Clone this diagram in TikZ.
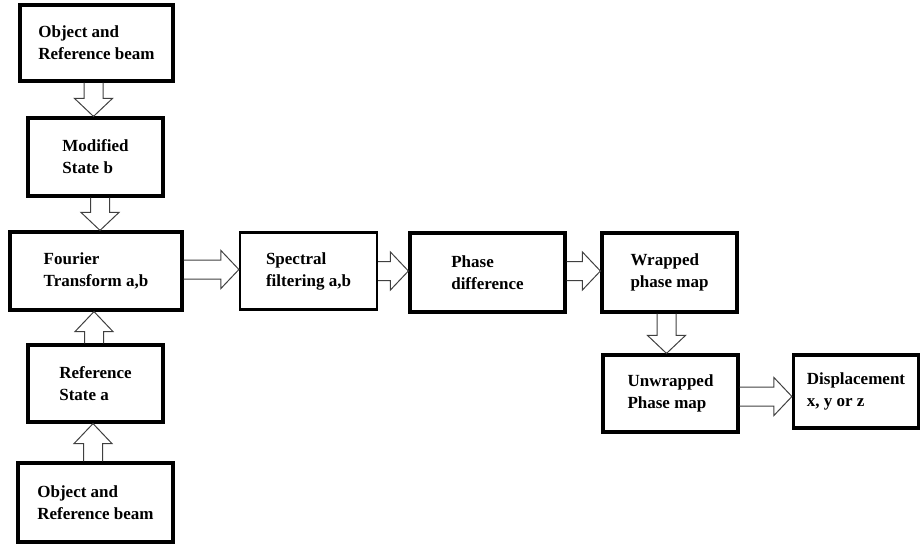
\documentclass[tikz,border=0pt]{standalone}
\usepackage{fontspec}
\setmainfont{Liberation Serif}
\usetikzlibrary{calc}

\tikzset{
    stage/.style={draw, line width=3.2pt, rectangle, align=left, inner sep=2pt,
        font=\fontsize{17}{22}\selectfont\bfseries},
    blockarrow/.style={draw=black!75, line width=1pt, line join=miter}
}

% hollow block arrows between two anchors
\newcommand{\blockdown}[2]{%
    \draw[blockarrow] let \p1=(#1), \p2=(#2) in
        ({\x1-9.5pt},\y1) -- ({\x1-9.5pt},{\y2+18pt}) -- ({\x1-19pt},{\y2+18pt})
        -- (\x1,\y2) -- ({\x1+19pt},{\y2+18pt}) -- ({\x1+9.5pt},{\y2+18pt}) -- ({\x1+9.5pt},\y1);}
\newcommand{\blockup}[2]{%
    \draw[blockarrow] let \p1=(#1), \p2=(#2) in
        ({\x1-9.5pt},\y1) -- ({\x1-9.5pt},{\y2-20pt}) -- ({\x1-19pt},{\y2-20pt})
        -- (\x1,\y2) -- ({\x1+19pt},{\y2-20pt}) -- ({\x1+9.5pt},{\y2-20pt}) -- ({\x1+9.5pt},\y1);}
\newcommand{\blockright}[2]{%
    \draw[blockarrow] let \p1=(#1), \p2=(#2) in
        (\x1,{\y1+9.5pt}) -- ({\x2-18pt},{\y1+9.5pt}) -- ({\x2-18pt},{\y1+19pt})
        -- (\x2,\y1) -- ({\x2-18pt},{\y1-19pt}) -- ({\x2-18pt},{\y1-9.5pt}) -- (\x1,{\y1-9.5pt});}

\begin{document}
\begin{tikzpicture}[x=1pt, y=-1pt]
    \useasboundingbox (0,0) rectangle (920,546);

    % Modified state branch
    \node[stage, minimum width=153pt, minimum height=76pt] (objtop) at (96.5,43) {Object and\\Reference beam};
    \node[stage, minimum width=135pt, minimum height=78pt] (modb) at (95.5,157) {Modified\\State b};

    % Fourier transform
    \node[stage, minimum width=172pt, minimum height=78pt] (fourier) at (96,271) {Fourier\\Transform a,b};

    % Reference state branch
    \node[stage, minimum width=135pt, minimum height=77pt] (refa) at (95.5,383.5) {Reference\\State a};
    \node[stage, minimum width=155pt, minimum height=79pt] (objbot) at (95.5,502.5) {Object and\\Reference beam};

    % Processing chain
    \node[stage, line width=2.2pt, minimum width=137pt, minimum height=77pt] (spectral) at (308.5,271) {Spectral\\filtering a,b};
    \node[stage, minimum width=155pt, minimum height=79pt] (phasediff) at (487.5,272.5) {Phase\\difference};
    \node[stage, minimum width=135pt, minimum height=79pt] (wrapped) at (669.5,272.5) {Wrapped\\phase map};
    \node[stage, minimum width=135pt, minimum height=77pt] (unwrapped) at (670.5,393.5) {Unwrapped\\Phase map};
    \node[stage, minimum width=125pt, minimum height=73pt] (disp) at (856,391.5) {Displacement\\x, y or z};

    % Arrows
    \blockdown{$(objtop.south)+(-3,0)$}{modb.north}
    \blockdown{$(modb.south)+(4.5,0)$}{fourier.north}
    \blockup{$(refa.north)+(-1.5,0)$}{fourier.south}
    \blockup{$(objbot.north)+(-2.5,0)$}{refa.south}
    \blockright{$(fourier.east)+(0,-1.5)$}{spectral.west}
    \blockright{spectral.east}{phasediff.west}
    \blockright{$(phasediff.east)+(0,-1.5)$}{wrapped.west}
    \blockdown{$(wrapped.south)+(-3,0)$}{unwrapped.north}
    \blockright{$(unwrapped.east)+(0,3)$}{disp.west}
\end{tikzpicture}
\end{document}
